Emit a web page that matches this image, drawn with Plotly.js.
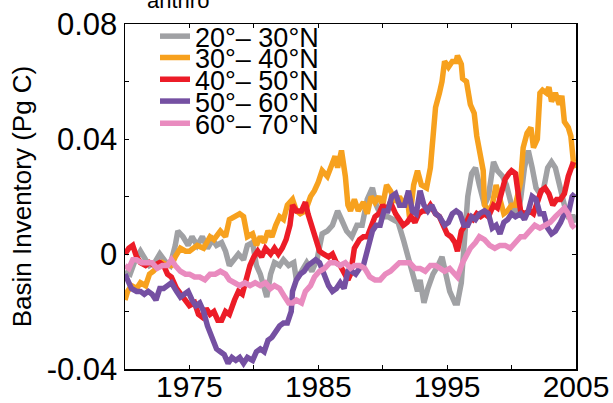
<!DOCTYPE html>
<html>
<head>
<meta charset="utf-8">
<script src="https://cdn.plot.ly/plotly-3.0.1.min.js"></script>
<style>html,body{margin:0;padding:0;background:#fff;}#chart{width:613px;height:403px;}</style>
</head>
<body>
<div id="chart"></div>
<script>
// ---- data (year, Pg C) ----
const seriesNames = ["20°\u2013 30°N", "30°\u2013 40°N", "40°\u2013 50°N", "50°\u2013 60°N", "60°\u2013 70°N"];

const grayYears = [
1970.0,1970.4,1970.8,1971.2,1971.6,1971.9,1972.3,1972.7,1973.2,1973.5,
1973.9,1974.1,1974.5,1974.9,1975.2,1975.6,1976.0,1976.4,1976.8,1977.1,
1977.5,1977.8,1978.1,1978.5,1978.8,1979.2,1979.5,1979.9,1980.2,1980.5,
1980.8,1981.0,1981.3,1981.6,1982.0,1982.3,1982.7,1983.1,1983.3,1983.7,
1984.1,1984.5,1984.9,1985.3,1985.7,1986.1,1986.5,1986.8,1987.2,1987.6,
1988.0,1988.4,1988.8,1989.2,1989.5,1989.9,1990.4,1990.8,1991.2,1991.6,
1992.0,1992.3,1992.7,1992.9,1993.2,1993.5,1993.9,1994.3,1994.6,1994.9,
1995.2,1995.6,1995.8,1996.1,1996.3,1996.6,1996.9,1997.2,1997.5,1997.9,
1998.2,1998.6,1998.9,1999.3,1999.6,2000.0,2000.4,2000.7,2001.0,2001.3,
2001.6,2001.9,2002.2,2002.5,2002.8,2003.1,2003.4,2003.8,2004.1,2004.4,
2004.8,2005.0];
const grayValues = [
-0.006,-0.007,-0.002,0.001,-0.002,-0.004,-0.003,0.000,-0.003,-0.004,
0.003,0.008,0.006,0.003,0.006,0.003,0.006,0.002,0.005,0.003,
0.004,0.001,-0.004,-0.002,0.000,-0.002,0.003,0.004,-0.004,-0.007,
-0.012,-0.015,-0.007,-0.003,-0.004,-0.002,-0.004,-0.003,-0.009,-0.006,
-0.003,-0.006,-0.002,0.007,0.008,0.010,0.015,0.012,0.008,0.006,
0.010,0.010,0.019,0.023,0.017,0.013,0.013,0.012,0.011,0.005,
-0.002,-0.007,-0.013,-0.009,-0.017,-0.012,-0.007,-0.004,-0.001,-0.007,
-0.013,-0.017,-0.017,-0.010,0.000,0.020,0.028,0.030,0.024,0.017,
0.020,0.032,0.029,0.027,0.024,0.017,0.013,0.019,0.030,0.036,
0.030,0.023,0.021,0.023,0.030,0.032,0.030,0.022,0.017,0.013,
0.013,0.011];

const orangeYears = [
1970.0,1970.2,1970.5,1970.9,1971.2,1971.6,1971.9,1972.2,1972.6,1972.9,
1973.3,1973.6,1973.9,1974.3,1974.7,1975.0,1975.6,1976.1,1976.6,1976.9,
1977.4,1977.8,1978.1,1978.5,1978.9,1979.2,1979.5,1979.9,1980.2,1980.5,
1980.8,1981.1,1981.4,1981.7,1982.0,1982.3,1982.6,1983.0,1983.3,1983.6,
1984.0,1984.4,1984.7,1985.0,1985.3,1985.7,1986.0,1986.3,1986.5,1986.8,
1987.1,1987.3,1987.5,1987.8,1988.1,1988.5,1988.8,1989.1,1989.4,1989.7,
1990.0,1990.3,1990.6,1991.0,1991.3,1991.6,1991.9,1992.1,1992.4,1992.7,
1993.0,1993.4,1993.7,1993.9,1994.1,1994.4,1994.6,1994.8,1995.1,1995.4,
1995.7,1995.8,1996.1,1996.2,1996.5,1996.8,1997.1,1997.3,1997.5,1997.8,
1997.9,1998.2,1998.5,1998.8,1999.1,1999.4,1999.7,2000.0,2000.3,2000.7,
2000.9,2001.2,2001.5,2001.7,2002.0,2002.2,2002.4,2002.7,2002.9,2003.1,
2003.4,2003.7,2003.9,2004.1,2004.4,2004.6,2004.8,2005.0];
const orangeValues = [
-0.016,-0.013,-0.011,-0.012,-0.010,-0.011,-0.007,-0.006,-0.004,-0.003,
-0.004,-0.004,-0.001,0.002,0.001,0.001,0.003,0.002,0.006,0.005,
0.008,0.006,0.012,0.013,0.014,0.013,0.006,0.007,0.003,0.006,
0.004,0.008,0.006,0.010,0.013,0.012,0.017,0.019,0.015,0.014,
0.015,0.020,0.022,0.025,0.029,0.027,0.031,0.034,0.030,0.036,
0.027,0.017,0.015,0.019,0.015,0.018,0.014,0.020,0.018,0.020,
0.017,0.024,0.022,0.018,0.020,0.017,0.020,0.012,0.024,0.029,
0.024,0.023,0.030,0.042,0.051,0.056,0.060,0.067,0.065,0.067,
0.067,0.069,0.066,0.061,0.060,0.052,0.049,0.041,0.037,0.029,
0.017,0.015,0.017,0.024,0.019,0.014,0.015,0.017,0.017,0.025,
0.037,0.042,0.044,0.037,0.040,0.056,0.057,0.056,0.058,0.053,
0.056,0.052,0.055,0.046,0.044,0.041,0.032,0.030];

const redYears = [
1970.0,1970.3,1970.6,1970.9,1971.2,1971.6,1971.9,1972.3,1972.7,1973.0,
1973.3,1973.6,1974.0,1974.3,1974.7,1975.0,1975.4,1975.7,1976.0,1976.3,
1976.6,1976.9,1977.2,1977.5,1977.8,1978.1,1978.5,1978.8,1979.1,1979.4,
1979.7,1980.0,1980.3,1980.6,1980.9,1981.3,1981.6,1981.9,1982.2,1982.5,
1982.8,1983.0,1983.3,1983.7,1984.0,1984.2,1984.5,1984.8,1985.1,1985.4,
1985.8,1986.1,1986.4,1986.7,1987.0,1987.3,1987.5,1987.8,1988.2,1988.5,
1988.8,1989.1,1989.4,1989.7,1990.0,1990.3,1990.6,1991.0,1991.3,1991.6,
1991.9,1992.2,1992.5,1992.8,1993.1,1993.4,1993.7,1994.1,1994.4,1994.7,
1995.0,1995.3,1995.6,1995.8,1996.1,1996.4,1996.7,1997.0,1997.3,1997.6,
1997.9,1998.2,1998.6,1998.9,1999.2,1999.5,1999.8,2000.0,2000.3,2000.5,
2000.7,2001.0,2001.4,2001.7,2002.0,2002.3,2002.6,2002.9,2003.2,2003.5,
2003.8,2004.1,2004.4,2004.6,2004.8];
const redValues = [
0.000,0.002,0.003,-0.001,-0.003,-0.004,-0.003,-0.004,-0.003,-0.004,
-0.007,-0.008,-0.012,-0.014,-0.016,-0.018,-0.017,-0.021,-0.022,-0.019,
-0.021,-0.020,-0.023,-0.023,-0.020,-0.021,-0.016,-0.013,-0.014,-0.008,
-0.004,-0.001,0.001,-0.001,0.002,0.000,0.002,0.000,0.002,0.005,
0.010,0.017,0.015,0.015,0.018,0.014,0.010,0.005,0.001,0.000,
-0.001,0.000,-0.003,-0.004,-0.007,-0.009,-0.007,0.002,0.005,0.006,
0.006,0.010,0.013,0.014,0.017,0.015,0.018,0.014,0.012,0.010,
0.011,0.013,0.011,0.014,0.015,0.015,0.017,0.014,0.013,0.010,
0.007,0.006,0.004,0.001,0.008,0.010,0.013,0.012,0.014,0.013,
0.014,0.013,0.017,0.016,0.022,0.026,0.028,0.029,0.028,0.020,
0.015,0.014,0.015,0.014,0.018,0.022,0.023,0.021,0.017,0.019,
0.019,0.021,0.027,0.030,0.032];

const purpleYears = [
1970.0,1970.2,1970.5,1970.9,1971.2,1971.5,1971.8,1972.1,1972.4,1972.7,
1973.0,1973.3,1973.6,1974.0,1974.3,1974.6,1974.9,1975.2,1975.5,1975.8,
1976.1,1976.4,1976.8,1977.1,1977.4,1977.7,1978.0,1978.3,1978.6,1978.9,
1979.2,1979.5,1979.9,1980.2,1980.5,1980.8,1981.1,1981.4,1981.7,1982.0,
1982.3,1982.6,1982.9,1983.0,1983.3,1983.6,1983.9,1984.2,1984.5,1984.8,
1985.1,1985.4,1985.8,1986.1,1986.4,1986.7,1987.0,1987.3,1987.6,1987.9,
1988.2,1988.5,1988.9,1989.2,1989.5,1989.8,1990.1,1990.4,1990.7,1991.0,
1991.3,1991.7,1992.0,1992.3,1992.6,1992.9,1993.2,1993.5,1993.8,1994.1,
1994.4,1994.8,1995.1,1995.4,1995.7,1996.0,1996.3,1996.6,1996.9,1997.2,
1997.5,1997.9,1998.2,1998.5,1998.8,1999.1,1999.4,1999.7,2000.0,2000.3,
2000.7,2001.0,2001.3,2001.6,2001.9,2002.2,2002.5,2002.8,2003.1,2003.4,
2003.8,2004.1,2004.4,2004.7,2004.9];
const purpleValues = [
-0.007,-0.009,-0.012,-0.013,-0.013,-0.014,-0.013,-0.014,-0.016,-0.012,
-0.012,-0.011,-0.010,-0.013,-0.015,-0.014,-0.013,-0.016,-0.018,-0.017,
-0.020,-0.025,-0.029,-0.033,-0.034,-0.035,-0.038,-0.036,-0.037,-0.036,
-0.038,-0.036,-0.037,-0.034,-0.033,-0.034,-0.030,-0.029,-0.027,-0.025,
-0.024,-0.024,-0.020,-0.013,-0.009,-0.007,-0.006,-0.004,-0.003,-0.002,
-0.003,-0.007,-0.011,-0.013,-0.012,-0.010,-0.012,-0.006,-0.006,-0.007,
-0.005,-0.004,0.003,0.008,0.010,0.010,0.015,0.015,0.020,0.021,
0.017,0.017,0.022,0.015,0.014,0.022,0.017,0.015,0.017,0.014,
0.013,0.010,0.011,0.014,0.015,0.014,0.010,0.010,0.013,0.012,
0.014,0.015,0.014,0.009,0.010,0.007,0.011,0.012,0.014,0.013,
0.014,0.012,0.015,0.020,0.019,0.014,0.014,0.009,0.007,0.008,
0.011,0.014,0.014,0.020,0.021];

const pinkYears = [
1970.0,1970.3,1970.6,1970.9,1971.3,1971.7,1972.1,1972.5,1972.9,1973.3,
1973.6,1973.9,1974.3,1974.7,1975.0,1975.4,1975.8,1976.2,1976.6,1977.0,
1977.4,1977.8,1978.1,1978.5,1978.9,1979.3,1979.7,1980.1,1980.5,1980.9,
1981.3,1981.6,1982.0,1982.4,1982.7,1983.0,1983.3,1983.7,1984.0,1984.4,
1984.7,1985.1,1985.5,1985.9,1986.3,1986.7,1987.1,1987.5,1987.8,1988.2,
1988.6,1989.0,1989.4,1989.8,1990.2,1990.6,1991.0,1991.3,1991.7,1992.1,
1992.5,1992.9,1993.3,1993.7,1994.1,1994.4,1994.8,1995.2,1995.6,1995.8,
1996.2,1996.5,1996.8,1997.2,1997.5,1997.9,1998.3,1998.7,1999.1,1999.5,
1999.9,2000.3,2000.7,2001.0,2001.4,2001.8,2002.2,2002.6,2003.0,2003.4,
2003.8,2004.1,2004.4,2004.7,2004.9];
const pinkValues = [
-0.004,-0.005,-0.002,-0.002,-0.003,-0.003,-0.003,-0.005,-0.004,-0.004,
-0.002,-0.004,-0.006,-0.007,-0.007,-0.008,-0.008,-0.009,-0.007,-0.007,
-0.006,-0.007,-0.009,-0.010,-0.011,-0.010,-0.011,-0.010,-0.011,-0.010,
-0.012,-0.011,-0.012,-0.015,-0.017,-0.017,-0.016,-0.017,-0.013,-0.011,
-0.008,-0.006,-0.005,-0.003,-0.003,-0.004,-0.003,-0.005,-0.004,-0.004,
-0.005,-0.008,-0.009,-0.009,-0.007,-0.006,-0.004,-0.003,-0.003,-0.003,
-0.005,-0.005,-0.006,-0.004,-0.004,-0.005,-0.006,-0.005,-0.007,-0.008,
-0.003,0.000,0.002,0.004,0.006,0.005,0.003,0.002,0.003,0.003,
0.002,0.004,0.006,0.006,0.008,0.010,0.009,0.010,0.011,0.013,
0.015,0.016,0.014,0.010,0.009];

const xTickVals = [1970, 1975, 1980, 1985, 1990, 1995, 2000, 2005];
const xTickText = ["", "1975", "", "1985", "", "1995", "", "2005"];
const yTickVals = [-0.04, -0.02, 0, 0.02, 0.04, 0.06, 0.08];
const yTickText = ["-0.04", "", "0", "", "0.04", "", "0.08"];

// ---- drawing ----
const FONT = "Liberation Sans, Arial, Helvetica, sans-serif";
const colors = ["#a0a1a4", "#f7a11e", "#ec1c27", "#7550a2", "#e98bbf"];
const xs = [grayYears, orangeYears, redYears, purpleYears, pinkYears];
const ys = [grayValues, orangeValues, redValues, purpleValues, pinkValues];
const legendIds = ["legend", "legend2", "legend3", "legend4", "legend5"];

const traces = seriesNames.map((name, i) => ({
  type: "scatter", mode: "lines", name: name,
  x: xs[i], y: ys[i],
  line: {color: colors[i], width: 5.5},
  legend: legendIds[i]
}));

const legendRowsPx = [26, 48, 70.5, 93, 116];
const plotTop = 13, plotBottom = 369;
const layout = {
  width: 613, height: 403,
  margin: {l: 125, r: 37, t: 13, b: 34},
  paper_bgcolor: "#fff", plot_bgcolor: "#fff",
  font: {family: FONT, color: "#000"},
  showlegend: true,
  xaxis: {
    range: [1970, 2005], tickmode: "array", tickvals: xTickVals, ticktext: xTickText,
    ticks: "inside", ticklen: 4, tickwidth: 1, tickcolor: "#000",
    showline: true, linecolor: "#000", linewidth: 1.5, mirror: "ticks",
    showgrid: false, zeroline: false, tickfont: {size: 30, family: FONT},
    ticklabelstandoff: -10
  },
  yaxis: {
    range: [-0.04, 0.08], tickmode: "array", tickvals: yTickVals, ticktext: yTickText,
    ticks: "inside", ticklen: 4, tickwidth: 1, tickcolor: "#000",
    showline: true, linecolor: "#000", linewidth: 1.5, mirror: "ticks",
    showgrid: false, zeroline: false, tickfont: {size: 31, family: FONT},
    ticklabelstandoff: 0,
    title: {text: "Basin Inventory (Pg C)", font: {size: 26, family: FONT}, standoff: 7}
  },
  annotations: [{
    xref: "paper", yref: "paper", x: (145 - 125) / 451, y: (plotBottom - 4) / (plotBottom - plotTop),
    xanchor: "left", yanchor: "bottom", showarrow: false, text: "anthro",
    font: {size: 22, family: FONT, color: "#000"}
  }]
};
legendIds.forEach((id, i) => {
  layout[id] = {
    x: (155 - 125) / 451, xanchor: "left",
    y: (plotBottom - legendRowsPx[i]) / (plotBottom - plotTop), yanchor: "middle",
    bgcolor: "rgba(0,0,0,0)", borderwidth: 0,
    font: {size: 27, family: FONT, color: "#000"}
  };
});

Plotly.newPlot("chart", traces, layout, {staticPlot: true, displayModeBar: false});
</script>
</body>
</html>
